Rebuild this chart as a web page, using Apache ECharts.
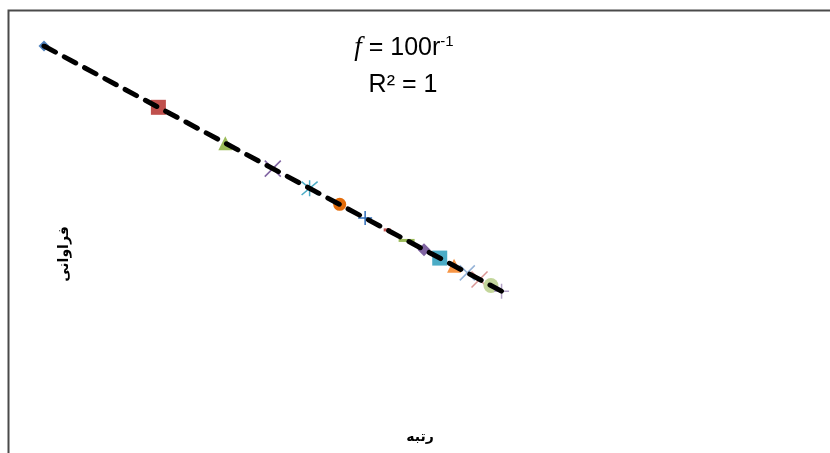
<!DOCTYPE html>
<html>
<head>
<meta charset="utf-8">
<script src="https://cdn.jsdelivr.net/npm/echarts@6/dist/echarts.min.js"></script>
<style>
  html, body { margin: 0; padding: 0; background: #fff; }
  #chart { width: 830px; height: 453px; }
</style>
</head>
<body>
<div id="chart"></div>
<script>
// ranks and frequencies (Zipf data, log-log)
const ranks = [1, 2, 3, 4, 5, 6, 7, 8, 9, 10, 11, 12, 13, 14, 15, 16]
const freqs = [100, 50, 33.3, 25, 20, 16.7, 14.3, 12.5, 11.1, 10, 9.09, 8.33, 7.69, 7.14, 6.67, 6.25]
const trendRanks = [1, 16]
const trendFreqs = [100, 6.25]

const TITLE_FIT = 'f'
const TITLE_R2 = 'R² = 1'
const X_NAME = 'رتبه'
const Y_NAME = 'فراوانی'

// Excel-like marker cycle
const P_X = 'path://M0,0L10,10M10,0L0,10'
const P_STAR = 'path://M0,0L10,10M10,0L0,10M5,-1L5,11'
const P_PLUS = 'path://M5,0L5,10M0,5L10,5'
const markers = [
  { symbol: 'diamond', size: 11, color: '#4F81BD' },
  { symbol: 'rect', size: 15, color: '#C0504D' },
  { symbol: 'triangle', size: 14, color: '#9BBB59' },
  { symbol: P_X, size: 16, color: '#8064A2', stroke: true },
  { symbol: P_STAR, size: 16, color: '#4BACC6', stroke: true },
  { symbol: 'circle', size: 13, color: '#E36C0A' },
  { symbol: P_PLUS, size: 14, color: '#2F6EBA', stroke: true },
  { symbol: 'rect', size: [7, 3], color: '#C0504D' },
  { symbol: 'rect', size: [16, 3], color: '#9BBB59' },
  { symbol: 'diamond', size: 13, color: '#8064A2' },
  { symbol: 'rect', size: 15, color: '#4BACC6' },
  { symbol: 'triangle', size: 14, color: '#F79646' },
  { symbol: P_X, size: 15, color: '#95B3D7', stroke: true },
  { symbol: P_X, size: 16, color: '#D99694', stroke: true },
  { symbol: 'circle', size: 15, color: '#C3D69B' },
  { symbol: P_PLUS, size: 15, color: '#B2A2C7', stroke: true },
]

const pointSeries = ranks.map((r, i) => {
  const m = markers[i]
  return {
    type: 'scatter',
    data: [[r, freqs[i]]],
    symbol: m.symbol,
    symbolSize: m.size,
    z: 2,
    itemStyle: m.stroke
      ? { color: 'rgba(0,0,0,0)', borderColor: m.color, borderWidth: 1.5, opacity: 1 }
      : { color: m.color, opacity: 1 },
  }
})

const chart = echarts.init(document.getElementById('chart'))
chart.setOption({
  animation: false,
  grid: { left: 44, right: 26, top: 46, bottom: 61 },
  xAxis: {
    type: 'log', min: 1, max: 100, logBase: 10,
    axisLine: { show: false }, axisTick: { show: false },
    axisLabel: { show: false }, splitLine: { show: false },
  },
  yAxis: {
    type: 'log', min: 2, max: 100, logBase: 10,
    axisLine: { show: false }, axisTick: { show: false },
    axisLabel: { show: false }, splitLine: { show: false },
  },
  graphic: [
    {
      type: 'rect', silent: true,
      shape: { x: 8.5, y: 10.5, width: 840, height: 460 },
      style: { fill: 'none', stroke: '#4a4a4a', lineWidth: 2 },
    },
    {
      type: 'text', x: 404, y: 48,
      style: {
        text: '{i|' + TITLE_FIT + '}{n| = 100r}{s|-1}',
        align: 'center', verticalAlign: 'middle',
        rich: {
          i: { fontStyle: 'italic', fontSize: 27, fontFamily: 'Liberation Serif', fill: '#000' },
          n: { fontSize: 25, fontFamily: 'Liberation Sans', fill: '#000' },
          s: { fontSize: 15, fontFamily: 'Liberation Sans', fill: '#000', verticalAlign: 'top', padding: [0, 0, 12, 0] },
        },
      },
    },
    {
      type: 'text', x: 403, y: 85,
      style: { text: TITLE_R2, font: '25px "Liberation Sans"', fill: '#000', align: 'center', verticalAlign: 'middle' },
    },
    {
      type: 'text', x: 420, y: 437,
      style: { text: X_NAME, font: 'bold 14px "DejaVu Sans"', fill: '#000', align: 'center', verticalAlign: 'middle' },
    },
    {
      type: 'text', x: 64, y: 254, rotation: Math.PI / 2,
      style: { text: Y_NAME, font: 'bold 14px "DejaVu Sans"', fill: '#000', align: 'center', verticalAlign: 'middle' },
    },
  ],
  series: [
    ...pointSeries,
    {
      type: 'line',
      data: trendRanks.map((r, i) => [r, trendFreqs[i]]),
      symbol: 'none',
      z: 5,
      lineStyle: { color: '#000', width: 5, type: [13, 10], cap: 'round' },
    },
  ],
})
</script>
</body>
</html>
